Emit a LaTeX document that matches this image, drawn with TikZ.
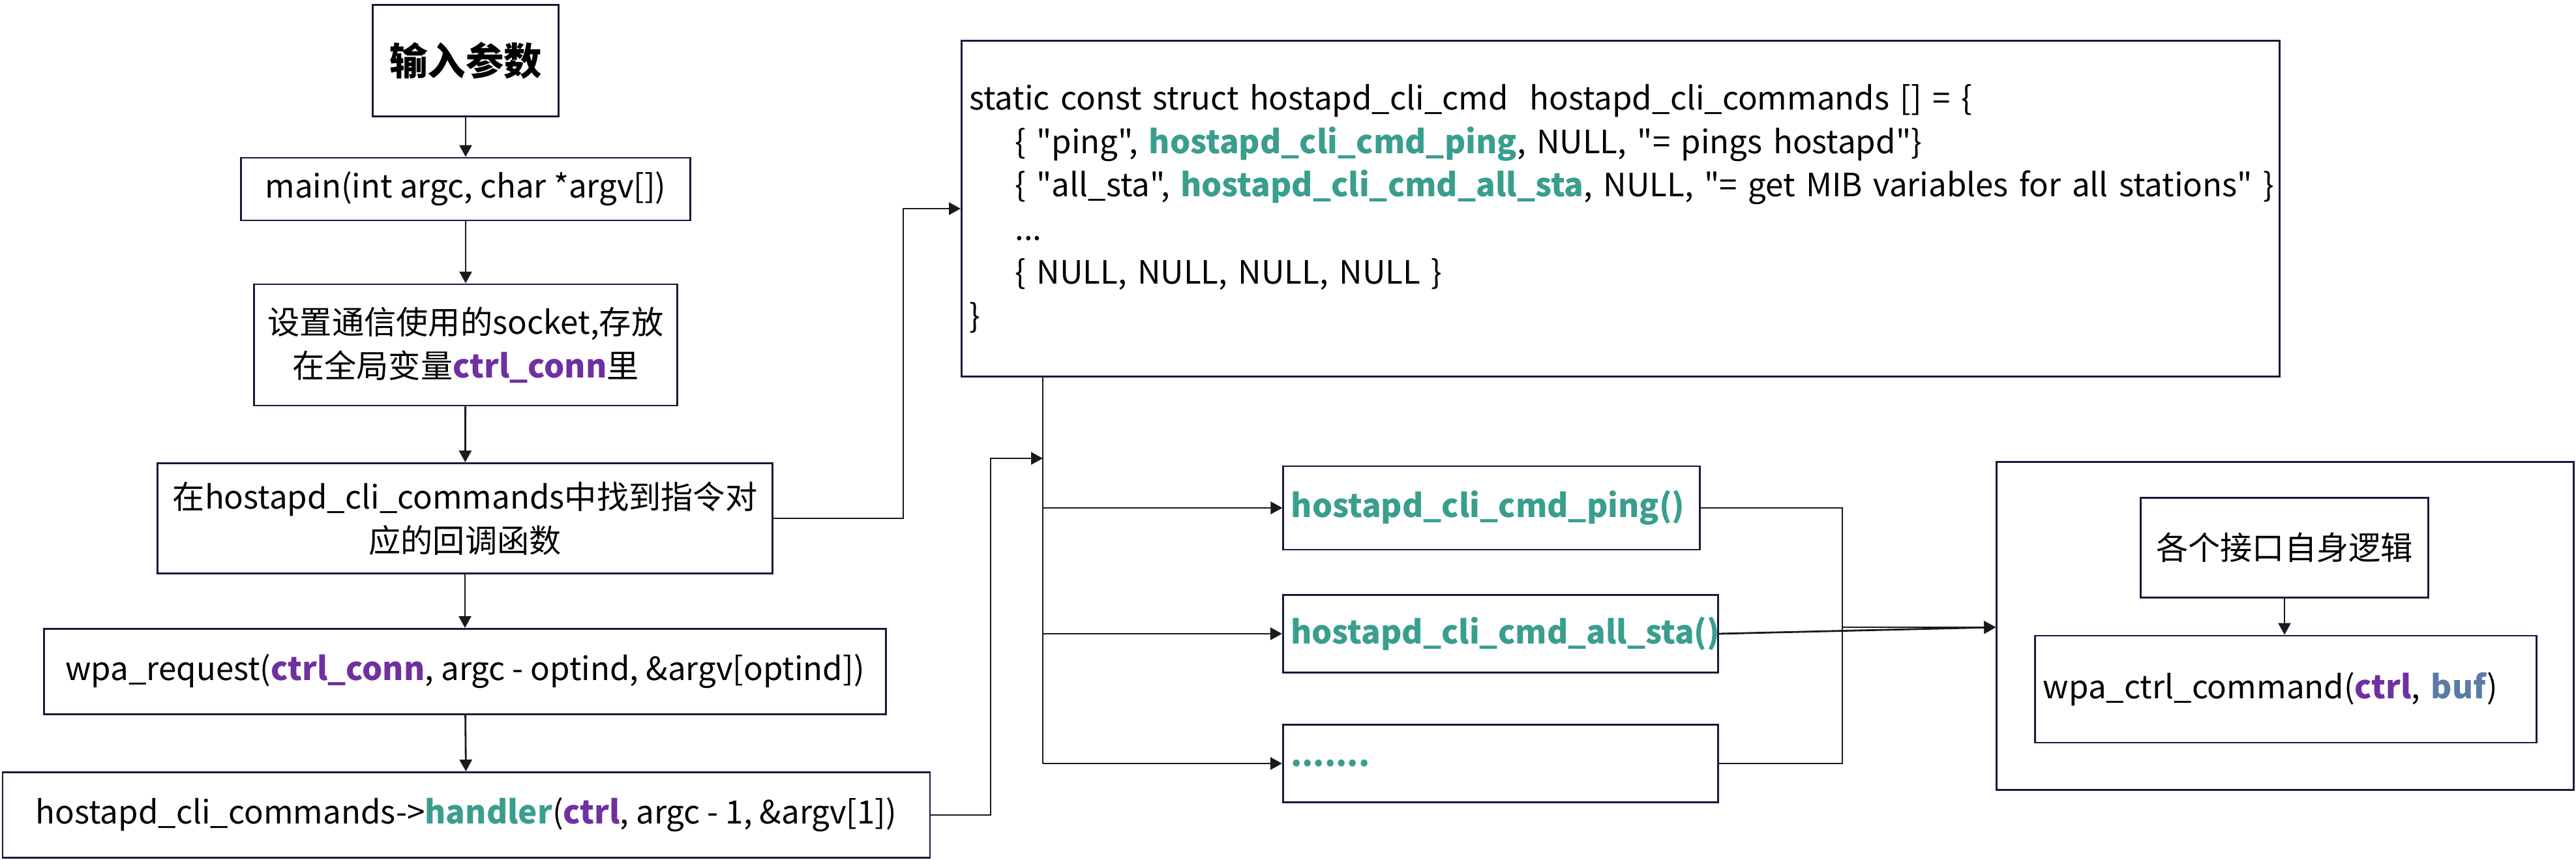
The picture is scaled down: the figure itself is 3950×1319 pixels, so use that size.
\documentclass[tikz,border=0pt]{standalone}
\usepackage{fontspec}
\setmainfont{Noto Sans CJK SC}[Ligatures=TeXOff]
\usetikzlibrary{arrows.meta}
\definecolor{cmdteal}{HTML}{3A9E8F}
\definecolor{varpurple}{HTML}{7030A0}
\definecolor{bufblue}{HTML}{5B7BA7}
\definecolor{boxnavy}{HTML}{161A3A}
\definecolor{linegray}{HTML}{1A1A1A}
\newcommand{\fn}[1]{\textcolor{cmdteal}{\textbf{#1}}}
\newcommand{\var}[1]{\textcolor{varpurple}{\textbf{#1}}}
\begin{document}
\begin{tikzpicture}[x=0.01cm,y=-0.01cm,
    box/.style={draw=boxnavy,line width=0.8pt,inner sep=1.2mm,font=\fontsize{14}{19}\selectfont},
    leftbox/.style={box,align=left,text width=#1},
    arr/.style={draw=linegray,line width=0.8pt,-{Triangle[length=1.8mm,width=1.9mm]}},
    wire/.style={draw=linegray,line width=0.8pt}]
    \useasboundingbox (0,0) rectangle (3950,1319);
    % left column
    \node[box,minimum width=2.85cm,minimum height=1.71cm,font=\fontsize{16.6}{20}\selectfont\bfseries] (input) at (714,93) {输入参数};
    \node[box,minimum width=6.88cm,minimum height=0.96cm] (main) at (714,290) {main(int argc, char *argv[])};
    \node[box,minimum width=6.48cm,minimum height=1.86cm,align=center] (sock) at (714,529) {设置通信使用的socket,存放\\在全局变量\var{ctrl\_conn}里};
    \node[box,minimum width=9.42cm,minimum height=1.69cm,align=center] (find) at (713,795) {在hostapd\_cli\_commands中找到指令对\\应的回调函数};
    \node[box,minimum width=12.9cm,minimum height=1.31cm] (req) at (713,1030) {wpa\_request(\var{ctrl\_conn}, argc - optind, \&argv[optind])};
    \node[box,minimum width=14.21cm,minimum height=1.31cm] (handler) at (715,1250) {hostapd\_cli\_commands->\fn{handler}(\var{ctrl}, argc - 1, \&argv[1])};
    % command table
    \node[leftbox=19.96cm,minimum height=5.15cm] (table) at (2485,320) {\mbox{static const struct hostapd\_cli\_cmd\ \ hostapd\_cli\_commands [] = \{}\\
        \mbox{\hspace*{0.7cm}\{ "ping", \fn{hostapd\_cli\_cmd\_ping}, NULL, "= pings hostapd"\}}\\
        \mbox{\hspace*{0.7cm}\{ "all\_sta", \fn{hostapd\_cli\_cmd\_all\_sta}, NULL, "= get MIB variables for all stations" \}}\\
        \hspace*{0.7cm}...\\
        \hspace*{0.7cm}\{ NULL, NULL, NULL, NULL \}\\
        \}};
    % handlers
    \node[leftbox=6.14cm,minimum height=1.28cm] (ping) at (2287,779) {\fn{hostapd\_cli\_cmd\_ping()}};
    \node[leftbox=6.43cm,minimum height=1.19cm] (allsta) at (2301,972) {\fn{hostapd\_cli\_cmd\_all\_sta()}};
    \node[leftbox=6.43cm,minimum height=1.19cm] (more) at (2301,1171) {\fn{.......}};
    % interface
    \node[box,minimum width=8.84cm,minimum height=5.03cm] (iface) at (3504,960) {};
    \node[box,minimum width=4.41cm,minimum height=1.53cm] (logic) at (3503,840) {各个接口自身逻辑};
    \node[leftbox=7.44cm,minimum height=1.64cm] (ctrlcmd) at (3505,1057) {wpa\_ctrl\_command(\var{ctrl}, \textcolor{bufblue}{\textbf{buf}})};
    % junctions
    \coordinate (up) at (1385,320);
    \coordinate (bus) at (1599,1171);
    \coordinate (back) at (1519,703);
    \coordinate (merge) at (2825,962);
    % connectors
    \draw[arr] (input) -- (main);
    \draw[arr] (main) -- (sock);
    \draw[arr] (sock) -- (find);
    \draw[arr] (find) -- (req);
    \draw[arr] (req) -- (handler);
    \draw[arr] (find.east) -| (up) -- (table.west);
    \draw[wire] (bus |- table.south) -- (bus);
    \draw[arr] (handler.east) -| (back) -- (back -| bus);
    \draw[arr] (bus |- ping.west) -- (ping.west);
    \draw[arr] (bus |- allsta.west) -- (allsta.west);
    \draw[arr] (bus) -- (more.west);
    \draw[wire] (ping.east) -| (more.east -| merge) -- (more.east);
    \draw[arr] (merge) -- (merge -| iface.west);
    \draw[arr] (allsta.east) -- (merge -| iface.west);
    \draw[arr] (logic) -- (logic |- ctrlcmd.north);
\end{tikzpicture}
\end{document}
